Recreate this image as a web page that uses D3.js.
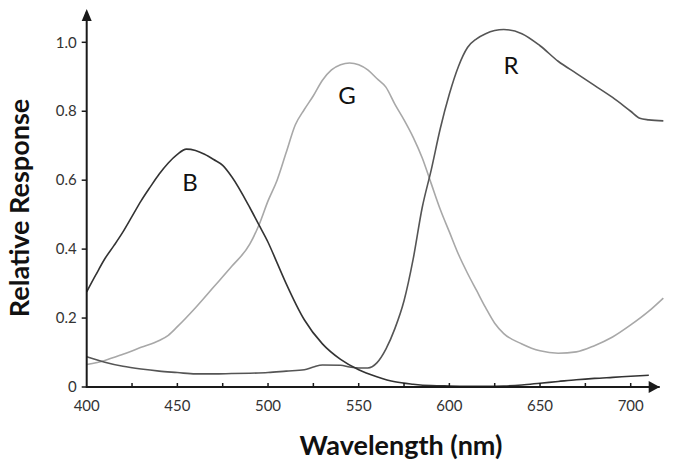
<!DOCTYPE html>
<html>
<head>
<meta charset="utf-8">
<script src="https://cdn.jsdelivr.net/npm/d3@7"></script>
<style>
  html, body { margin: 0; padding: 0; background: #fff; }
  svg { display: block; }
  text { font-family: Lato, "Open Sans", sans-serif; }
</style>
</head>
<body>
<svg id="chart" width="674" height="469"></svg>
<script>
// ---- data ----
const blueWavelengths = [400,405,410,415,420,425,430,435,440,445,450,455,460,465,470,475,480,490,495,500,505,510,520,530,540,550,560,570,580,590,600,620,630,640,650,660,670,680,690,700,710];
const blueValues = [0.276,0.325,0.372,0.41,0.45,0.495,0.54,0.58,0.618,0.65,0.675,0.69,0.686,0.675,0.66,0.643,0.61,0.52,0.47,0.42,0.36,0.30,0.195,0.125,0.08,0.05,0.03,0.015,0.008,0.004,0.003,0.002,0.003,0.006,0.011,0.016,0.021,0.025,0.028,0.031,0.034];

const greenWavelengths = [400,410,420,430,440,445,450,460,470,480,490,495,500,505,510,515,520,525,530,535,540,545,550,555,560,565,570,575,580,585,590,595,600,605,610,615,620,625,630,640,650,660,670,680,690,700,710,718];
const greenValues = [0.065,0.077,0.095,0.115,0.135,0.15,0.175,0.23,0.29,0.35,0.415,0.47,0.54,0.60,0.68,0.76,0.805,0.845,0.89,0.92,0.935,0.94,0.935,0.92,0.895,0.87,0.82,0.775,0.725,0.665,0.59,0.515,0.45,0.385,0.33,0.28,0.23,0.185,0.155,0.125,0.105,0.098,0.102,0.12,0.145,0.18,0.22,0.258];

const redWavelengths = [400,410,420,430,440,450,460,470,480,490,500,510,520,525,530,540,545,550,555,560,565,570,575,580,585,590,595,600,605,610,615,620,630,640,650,660,670,680,690,700,705,710,718];
const redValues = [0.088,0.072,0.06,0.052,0.046,0.042,0.038,0.038,0.039,0.04,0.042,0.046,0.05,0.058,0.064,0.063,0.058,0.055,0.055,0.07,0.11,0.17,0.25,0.37,0.52,0.63,0.75,0.85,0.93,0.985,1.01,1.025,1.037,1.025,0.99,0.945,0.91,0.875,0.84,0.80,0.78,0.775,0.772];

const curveLabels = ["B", "G", "R"];
const curveLabelAt = [[457, 0.568], [543.5, 0.822], [634, 0.907]];

const xTickValues = [425,450,475,500,525,550,575,600,625,650,675,700];
const xTickLabels = [400,450,500,550,600,650,700];
const yTickValues = [0, 0.2, 0.4, 0.6, 0.8, 1.0];

const xTitle = "Wavelength (nm)";
const yTitle = "Relative Response";

// ---- chart ----
const svg = d3.select("#chart");
const x = d3.scaleLinear().domain([400, 700]).range([86.7, 630.7]);
const y = d3.scaleLinear().domain([0, 1]).range([387, 42.3]);

const axisColor = "#1a1a1a";

// curves
const series = [
  {w: greenWavelengths, v: greenValues, color: "#a8a8a8"},
  {w: redWavelengths, v: redValues, color: "#555555"},
  {w: blueWavelengths, v: blueValues, color: "#333333"}
];
const line = d3.line().x(d => x(d[0])).y(d => y(d[1])).curve(d3.curveMonotoneX);
series.forEach(s => {
  svg.append("path")
    .datum(s.w.map((w, i) => [w, s.v[i]]))
    .attr("d", line)
    .attr("fill", "none")
    .attr("stroke", s.color)
    .attr("stroke-width", 1.6);
});

// x axis
const xAxisG = svg.append("g").attr("transform", `translate(0,${y(0)})`);
xAxisG.append("line")
  .attr("x1", x(400)).attr("x2", x(716))
  .attr("stroke", axisColor).attr("stroke-width", 2);
xAxisG.selectAll("line.tick").data(xTickValues).join("line")
  .attr("class", "tick")
  .attr("x1", d => x(d)).attr("x2", d => x(d))
  .attr("y1", 0).attr("y2", -4)
  .attr("stroke", axisColor).attr("stroke-width", 1.5);
xAxisG.selectAll("text.lbl").data(xTickLabels).join("text")
  .attr("class", "lbl")
  .attr("x", d => x(d)).attr("y", 24)
  .attr("text-anchor", "middle")
  .attr("font-size", 15)
  .attr("fill", "#333")
  .text(d => d);
// x arrow
const xEnd = x(716);
xAxisG.append("path")
  .attr("d", `M${xEnd - 11},-6 L${xEnd},0 L${xEnd - 11},6 Z`)
  .attr("fill", axisColor);

// y axis
const yAxisG = svg.append("g").attr("transform", `translate(${x(400)},0)`);
yAxisG.append("line")
  .attr("y1", y(0) + 1).attr("y2", 12)
  .attr("stroke", axisColor).attr("stroke-width", 2);
yAxisG.selectAll("line.tick").data(yTickValues).join("line")
  .attr("class", "tick")
  .attr("x1", 0).attr("x2", -5)
  .attr("y1", d => y(d)).attr("y2", d => y(d))
  .attr("stroke", axisColor).attr("stroke-width", 1.5);
yAxisG.selectAll("text.lbl").data(yTickValues).join("text")
  .attr("class", "lbl")
  .attr("x", -10).attr("y", d => y(d))
  .attr("dy", "0.35em")
  .attr("text-anchor", "end")
  .attr("font-size", 15)
  .attr("fill", "#333")
  .text(d => d === 0 ? "0" : d3.format(".1f")(d));
yAxisG.append("path")
  .attr("d", `M-5,21 L0,9 L5,21 Z`)
  .attr("fill", axisColor);

// curve labels
svg.selectAll("text.curve").data(curveLabels).join("text")
  .attr("class", "curve")
  .attr("x", (d, i) => x(curveLabelAt[i][0]))
  .attr("y", (d, i) => y(curveLabelAt[i][1]))
  .attr("text-anchor", "middle")
  .attr("font-size", 24)
  .attr("fill", "#111")
  .text(d => d);

// titles
svg.append("text")
  .attr("x", 401).attr("y", 455)
  .attr("text-anchor", "middle")
  .attr("font-size", 27)
  .attr("font-weight", "bold")
  .attr("fill", "#111")
  .text(xTitle);
svg.append("text")
  .attr("transform", "translate(29,208) rotate(-90)")
  .attr("text-anchor", "middle")
  .attr("font-size", 27)
  .attr("font-weight", "bold")
  .attr("fill", "#111")
  .text(yTitle);
</script>
</body>
</html>
